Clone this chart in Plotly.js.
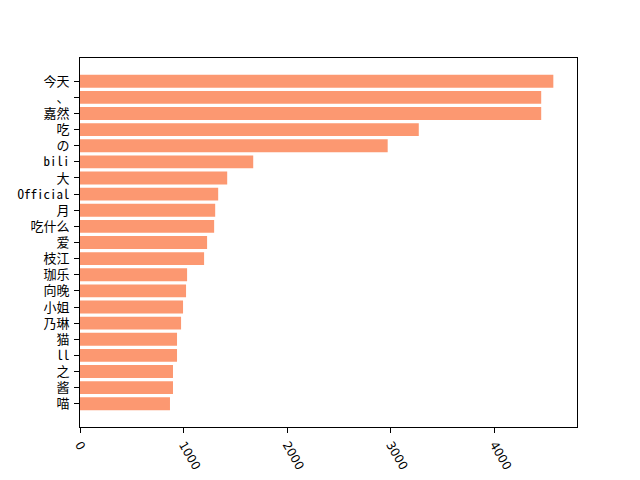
<!DOCTYPE html>
<html>
<head>
<meta charset="utf-8">
<script src="https://cdn.plot.ly/plotly-3.0.1.min.js"></script>
<style>
  html, body { margin: 0; padding: 0; background: #fff; }
  #chart { width: 640px; height: 480px; }
</style>
</head>
<body>
<div id="chart"></div>
<script>
"use strict";

// word counts, top first
const words = ["今天", "、", "嘉然", "吃", "の", "bili", "大", "Official", "月", "吃什么",
    "爱", "枝江", "珈乐", "向晚", "小姐", "乃琳", "猫", "ll", "之", "酱", "喵"];
const counts = [4566, 4449, 4449, 3268, 2968, 1671, 1420, 1333, 1304, 1294,
    1226, 1197, 1033, 1023, 994, 975, 936, 936, 897, 897, 868];
const xTicks = [0, 1000, 2000, 3000, 4000];

const font = "'Noto Sans Mono CJK SC', 'Noto Sans CJK SC', sans-serif";
const n = words.length;
const maxVal = Math.max(...counts);

Plotly.newPlot("chart", [{
    type: "bar",
    orientation: "h",
    x: counts,
    y: words,
    marker: { color: "rgb(252,152,113)" },
    hoverinfo: "x+y",
}], {
    width: 640,
    height: 480,
    showlegend: false,
    bargap: 0.2,
    margin: { l: 80, r: 63, t: 58, b: 53 },
    paper_bgcolor: "#fff",
    plot_bgcolor: "#fff",
    font: { family: font, size: 13, color: "#000" },
    xaxis: {
        range: [0, maxVal * 1.05],
        tickvals: xTicks,
        ticktext: xTicks.map(String),
        tickangle: 60,
        ticks: "outside",
        ticklen: 5,
        tickcolor: "#000",
        showgrid: false,
        zeroline: false,
        showline: true,
        linecolor: "#000",
        linewidth: 1,
        mirror: true,
        tickfont: { family: "'DejaVu Sans', sans-serif", size: 12, color: "#000" },
    },
    yaxis: {
        type: "category",
        categoryorder: "array",
        categoryarray: words,
        range: [n - 1 + 0.4 + 1.04, -0.4 - 1.04],
        ticks: "outside",
        ticklen: 5,
        tickcolor: "#000",
        ticklabelstandoff: 2,
        showgrid: false,
        zeroline: false,
        showline: true,
        linecolor: "#000",
        linewidth: 1,
        mirror: true,
        tickfont: { family: font, size: 13, color: "#000" },
    },
}, { displayModeBar: false, staticPlot: true });
</script>
</body>
</html>
